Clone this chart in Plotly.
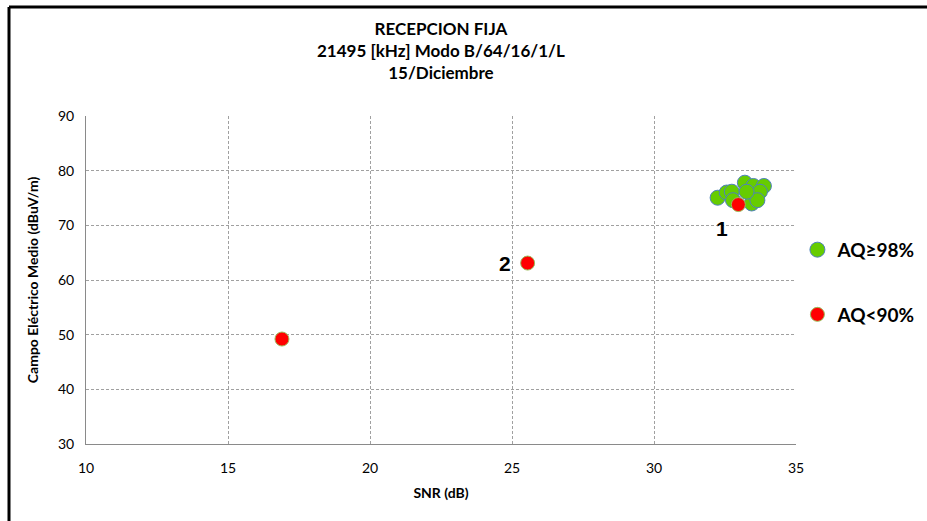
import plotly.graph_objects as go

# Reception measurements: SNR (dB) vs mean electric field (dBuV/m)
snr_good = [32.24, 32.56, 32.74, 33.20, 33.50, 33.87, 33.73, 33.44, 33.64, 32.78, 33.26]
field_good = [75.05, 76.0, 76.15, 77.8, 77.2, 77.2, 76.15, 74.0, 74.6, 74.6, 76.15]

snr_bad = [16.9, 25.55, 32.97]
field_bad = [49.2, 63.1, 73.8]
point_labels = ["", "2", "1"]

x_ticks = [10, 15, 20, 25, 30, 35]
y_ticks = [30, 40, 50, 60, 70, 80, 90]

title_lines = ["RECEPCION FIJA", "21495 [kHz] Modo B/64/16/1/L", "15/Diciembre"]

FONT = "Lato, Carlito, Calibri, sans-serif"
GRID = "#a0a0a0"
AXIS = "#8a8a8a"

fig = go.Figure()

fig.add_trace(go.Scatter(
    x=snr_good, y=field_good, mode="markers", name="<b>AQ≥98%</b>",
    legendgroup="g",
    marker=dict(size=15, color="#66cc00", line=dict(color="#4f81bd", width=1)),
))
fig.add_trace(go.Scatter(
    x=snr_bad, y=field_bad, mode="markers", name="<b>AQ<90%</b>",
    legendgroup="r",
    marker=dict(size=14, color="#ff0000", line=dict(color="#9bbb59", width=1)),
))

# Numbered point labels
annotations = []
shifts = {"1": (-16, -24), "2": (-23, 0)}
for x, y, lab in zip(snr_bad, field_bad, point_labels):
    if lab:
        dx, dy = shifts[lab]
        annotations.append(dict(
            x=x, y=y, xref="x", yref="y", text=f"<b>{lab}</b>", showarrow=False,
            xshift=dx, yshift=dy,
            font=dict(family="Arial, Liberation Sans, sans-serif", size=21, color="#000"),
        ))

# Three-line chart title, centred over the plot area
PLOT_W = 710
PLOT_H = 328
annotations.append(dict(
    x=0.5, y=1 + (116 - 50) / PLOT_H, xref="paper", yref="paper",
    xanchor="center", yanchor="middle", showarrow=False,
    text="<b>" + "<br>".join(title_lines) + "</b>",
    font=dict(family=FONT, size=17, color="#000"),
))

axis_common = dict(
    ticks="", showgrid=True, gridcolor=GRID, griddash="3px,2px", gridwidth=1,
    showline=True, linecolor=AXIS, linewidth=1, zeroline=False,
    tickfont=dict(size=14, color="#000"),
)

# Frame around the chart: top and left edges
frame_top = 1 + (116 - 7) / PLOT_H
frame_left = -77 / PLOT_W
frame = [
    dict(type="line", xref="paper", yref="paper",
         x0=frame_left, x1=1.3, y0=frame_top, y1=frame_top,
         line=dict(color="#000", width=3)),
    dict(type="line", xref="paper", yref="paper",
         x0=frame_left, x1=frame_left, y0=frame_top, y1=-0.4,
         line=dict(color="#000", width=3)),
]

fig.update_layout(
    width=927, height=521,
    margin=dict(l=86, r=131, t=116, b=77, autoexpand=False),
    paper_bgcolor="white", plot_bgcolor="white",
    font=dict(family=FONT, color="#000", size=14),
    xaxis=dict(
        range=[10, 35], tickvals=x_ticks, ticklabelstandoff=11,
        title=dict(text="<b>SNR (dB)</b>", font=dict(size=14), standoff=13),
        **axis_common,
    ),
    yaxis=dict(
        range=[30, 90], tickvals=y_ticks, ticklabelstandoff=8,
        title=dict(text="<b>Campo Eléctrico Medio (dBuV/m)</b>", font=dict(size=14), standoff=16),
        **axis_common,
    ),
    legend=dict(
        x=1.002, xanchor="left", y=0.65, yanchor="top",
        font=dict(family=FONT, size=19, color="#000"),
        tracegroupgap=37, traceorder="grouped",
        bgcolor="rgba(0,0,0,0)", itemwidth=30,
    ),
    annotations=annotations,
    shapes=frame,
)

fig.write_html("out.html")
